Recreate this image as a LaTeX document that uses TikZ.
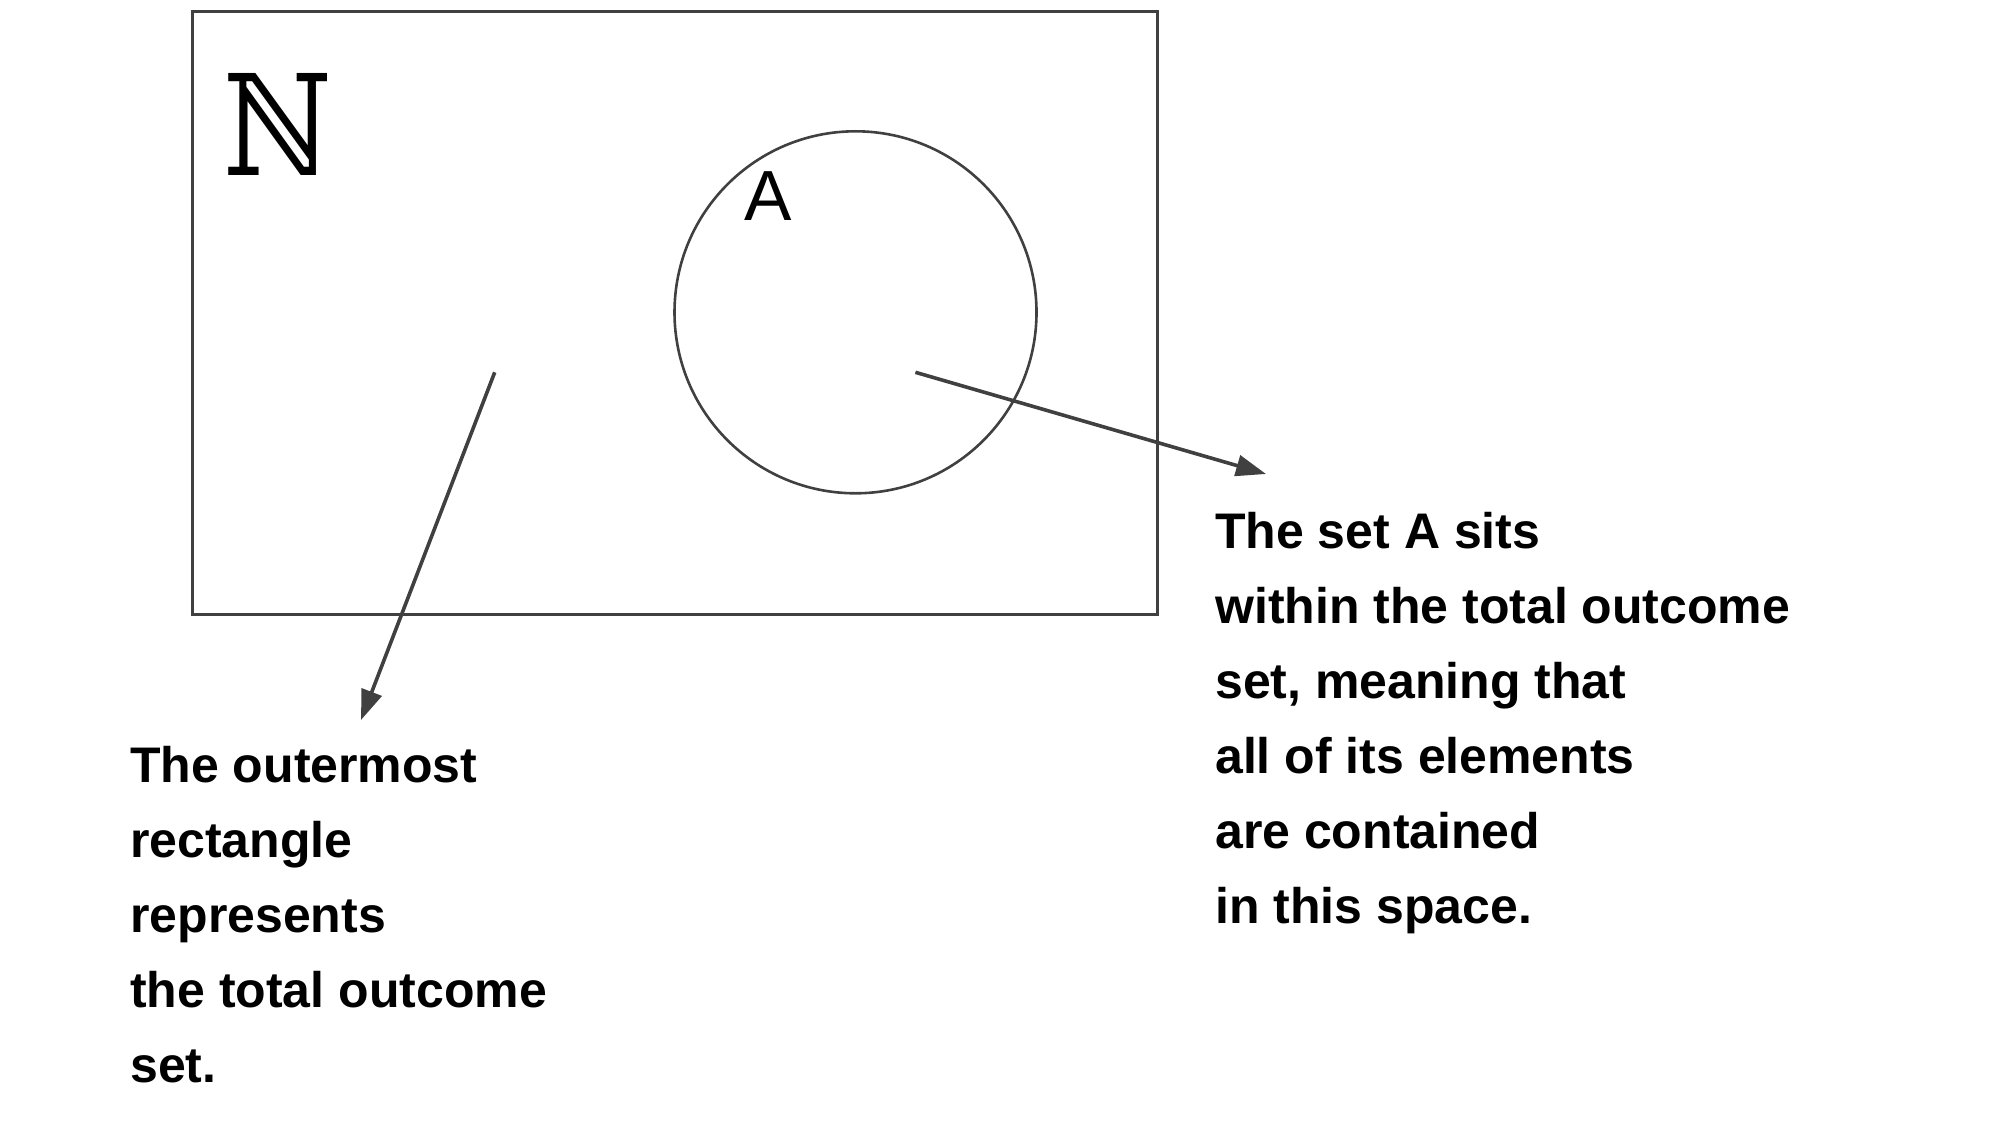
\documentclass[tikz,border=0pt]{standalone}
\usepackage{fontspec}
\setmainfont{Liberation Sans}
\newfontfamily\serifN{DejaVu Serif}
\usetikzlibrary{arrows.meta}
\definecolor{linegray}{HTML}{404040}
\tikzset{
  frame/.style={draw=linegray, line width=2.6pt},
  pointer/.style={draw=linegray, line width=3.6pt, -{Triangle[length=30pt,width=21pt]}},
  note/.style={inner sep=0pt, align=left, anchor=base west, font=\fontsize{50}{75}\selectfont\bfseries}
}
\begin{document}
\begin{tikzpicture}[x=1pt,y=-1pt]
\useasboundingbox (0,0) rectangle (1999,1142);
\node[frame, rectangle, minimum width=965pt, minimum height=603pt, inner sep=0pt] (univ) at (675,313) {};
\node[frame, circle, minimum size=362pt, inner sep=0pt] (setA) at (855.5,312.3) {};
\node[inner sep=0pt, xscale=0.85, font=\fontsize{140}{140}\selectfont\serifN] (nat) at (278,124.5) {ℕ};
\node[inner sep=0pt, anchor=base west, font=\fontsize{71}{71}\selectfont] (alabel) at (744,220) {A};
\coordinate (s1) at (494.7,372.3);
\coordinate (s2) at (915.4,372.3);
\node[note] (leftnote) at (130,1082) {The outermost\\rectangle\\represents\\the total outcome\\set.};
\node[note] (rightnote) at (1215,923) {The set A sits\\within the total outcome\\set, meaning that\\all of its elements\\are contained\\in this space.};
\coordinate (e1) at (361,720);
\coordinate (e2) at (1266,474);
\draw[pointer] (s1) -- (e1);
\draw[pointer] (s2) -- (e2);
\end{tikzpicture}
\end{document}
